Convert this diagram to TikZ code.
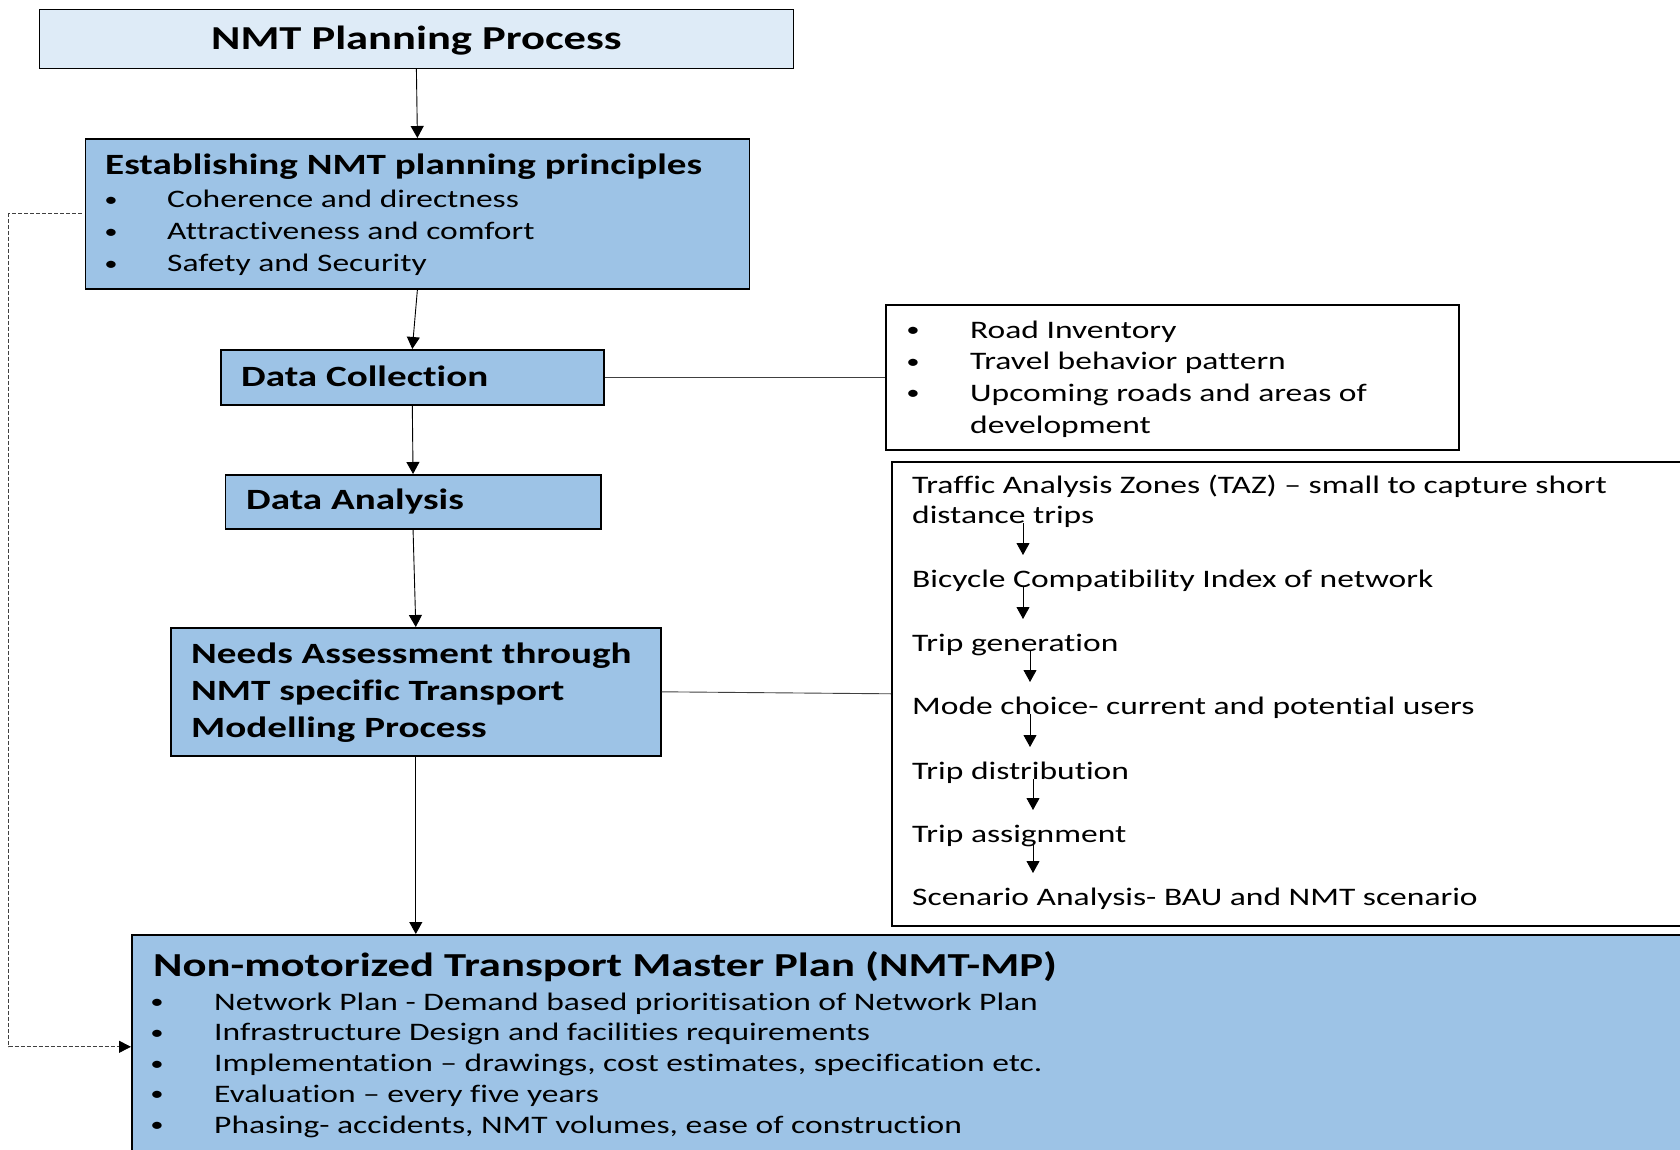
\documentclass[tikz,border=0pt]{standalone}
\usepackage{fontspec}
\setmainfont{Carlito}[FakeStretch=1.33, Ligatures={TeX,CommonOff,ContextualOff}]
\usetikzlibrary{arrows.meta}
\definecolor{paleblue}{HTML}{DEEBF7}
\definecolor{stageblue}{HTML}{9DC3E6}
\newcommand\dotmark{\raisebox{1.5pt}{\scalebox{0.8}{\textbullet}}}
\tikzset{
    headbox/.style={draw, line width=1.6pt, fill=paleblue, anchor=north west, inner sep=0pt},
    stagebox/.style={draw, line width=1.6pt, fill=stageblue, anchor=north west, inner sep=0pt},
    notebox/.style={draw, line width=1.6pt, fill=white, anchor=north west, inner sep=0pt},
    txt/.style={anchor=base west, inner sep=0pt},
    hd/.style={txt, font=\fontsize{29.4}{35}\selectfont\bfseries},
    rg/.style={txt, font=\fontsize{25.2}{30}\selectfont},
    bul/.style={anchor=base, inner sep=0pt, font=\fontsize{25.2}{30}\selectfont},
    arr/.style={-{Triangle[width=13pt,length=12pt]}, line width=0.9pt},
    link/.style={line width=0.9pt, black!75},
    dashlink/.style={-{Triangle[width=12pt,length=12pt,black]}, line width=0.8pt, black!75, dash pattern=on 4pt off 2pt}
}
\begin{document}
\begin{tikzpicture}[x=1pt, y=-1pt]
    \useasboundingbox (0,0) rectangle (1680,1150);

    % left column
    \node[headbox, minimum width=754pt, minimum height=59pt, text height=22pt, text depth=0pt,
        font=\fontsize{33.5}{40}\selectfont\bfseries] (title) at (38.6,8.6) {NMT Planning Process};

    \node[stagebox, minimum width=664pt, minimum height=150pt] (principles) at (84.6,138) {};
    \node[hd] (principleshd) at (105,175) {Establishing NMT planning principles};
    \foreach \t [count=\i] in {Coherence and directness, Attractiveness and comfort, Safety and Security} {
        \node[bul] at (111,176+32*\i) {\dotmark};
        \node[rg] (pr\i) at (167,176+32*\i) {\t};
    }

    \node[stagebox, minimum width=383pt, minimum height=55pt] (collect) at (220,349) {};
    \node[hd] (collecthd) at (241,386) {Data Collection};

    \node[stagebox, minimum width=375.5pt, minimum height=54pt] (analysis) at (224.5,474) {};
    \node[hd] (analysishd) at (246,509) {Data Analysis};

    \node[stagebox, minimum width=490pt, minimum height=128pt] (needs) at (170,627) {};
    \node[hd] (needs1) at (191,663) {Needs Assessment through};
    \node[hd] (needs2) at (191,700) {NMT specific Transport};
    \node[hd] (needs3) at (191,737) {Modelling Process};

    \node[stagebox, minimum width=1600pt, minimum height=224pt] (masterplan) at (131,934) {};
    \node[txt, font=\fontsize{33.6}{38}\selectfont\bfseries] (masterplanhd) at (153,976) {Non-motorized Transport Master Plan (NMT-MP)};
    \foreach \t [count=\i] in {Network Plan - Demand based prioritisation of Network Plan,
        Infrastructure Design and facilities requirements,
        Implementation -- drawings{,} cost estimates{,} specification etc.,
        Evaluation -- every five years,
        Phasing- accidents{,} NMT volumes{,} ease of construction} {
        \node[bul] at (157,979.2+30.8*\i) {\dotmark};
        \node[rg] (mp\i) at (214,979.2+30.8*\i) {\t};
    }

    % right column
    \node[notebox, minimum width=573pt, minimum height=145pt] (inventory) at (885,304) {};
    \foreach \t [count=\i] in {Road Inventory, Travel behavior pattern, Upcoming roads and areas of} {
        \node[bul] at (913,306.5+31.5*\i) {\dotmark};
        \node[rg] (inv\i) at (970,306.5+31.5*\i) {\t};
    }
    \node[rg] (inv4) at (970,433) {development};

    \node[notebox, minimum width=850pt, minimum height=464pt] (modelling) at (891,461) {};
    \node[rg] (m0) at (912,493) {Traffic Analysis Zones (TAZ) -- small to capture short};
    \node[rg] (m1) at (912,523) {distance trips};
    \node[rg] (m2) at (912,587) {Bicycle Compatibility Index of network};
    \node[rg] (m3) at (912,651) {Trip generation};
    \node[rg] (m4) at (912,714) {Mode choice- current and potential users};
    \node[rg] (m5) at (912,779) {Trip distribution};
    \node[rg] (m6) at (912,842) {Trip assignment};
    \node[rg] (m7) at (912,905) {Scenario Analysis- BAU and NMT scenario};
    \foreach \a/\b/\dx in {1/2/111, 2/3/111, 3/4/118, 4/5/118, 5/6/121, 6/7/121}
        \draw[arr] ([xshift=\dx pt]m\a.base west) -- ([xshift=\dx pt, yshift=32pt]m\b.base west);

    % connectors
    \draw[arr] (title.south) -- (principles.north);
    \draw[arr] (principles.south) -- (collect.north);
    \draw[arr] (collect.south) -- (analysis.north);
    \draw[arr] (analysis.south) -- (needs.north);
    \draw[arr] (needs.south) -- (needs.south |- masterplan.north);
    \draw[link] (collect.east) -- (inventory.west);
    \draw[link] (needs.east) -- (modelling.west);
    \draw[dashlink] ([xshift=-3pt]principles.west) -- ++(-73,0) |- (masterplan.west);
\end{tikzpicture}
\end{document}
